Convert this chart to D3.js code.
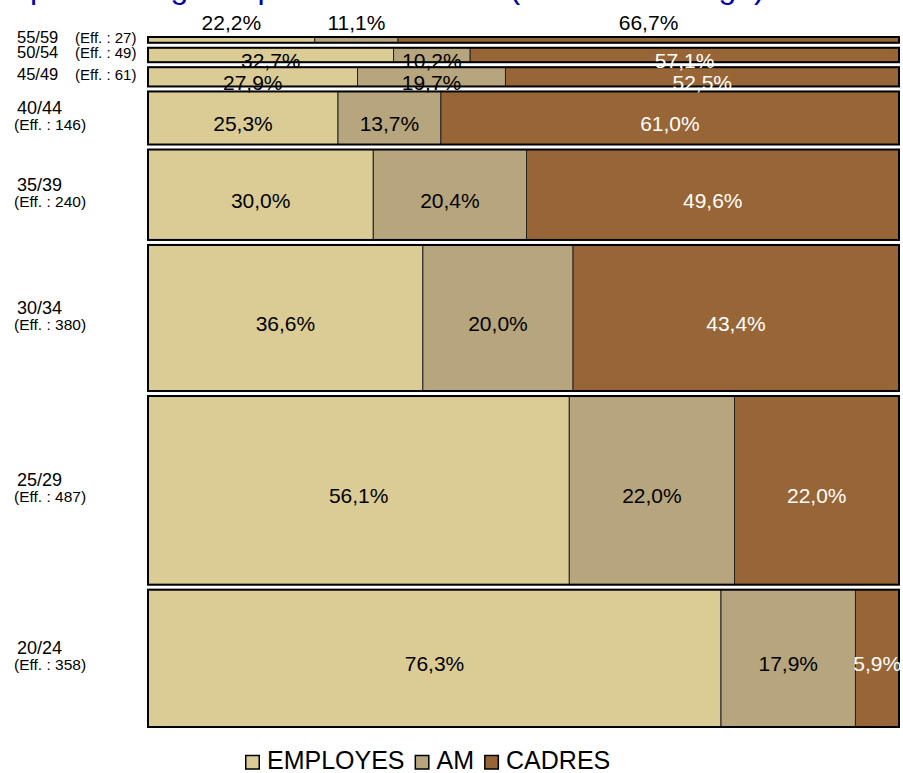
<!DOCTYPE html>
<html>
<head>
<meta charset="utf-8">
<script src="https://cdn.jsdelivr.net/npm/d3@7"></script>
<style>
  body { margin: 0; background: #fff; }
  svg { display: block; font-family: "Liberation Sans", Arial, Helvetica, sans-serif; }
</style>
</head>
<body>
<div id="chart"></div>
<script>
// age groups from top to bottom, with headcount (Eff.)
const ageGroups = ["55/59", "50/54", "45/49", "40/44", "35/39", "30/34", "25/29", "20/24"];
const effectifs = [27, 49, 61, 146, 240, 380, 487, 358];

const categories = ["EMPLOYES", "AM", "CADRES"];
const employes = [22.2, 32.7, 27.9, 25.3, 30.0, 36.6, 56.1, 76.3];
const am = [11.1, 10.2, 19.7, 13.7, 20.4, 20.0, 22.0, 17.9];
const cadres = [66.7, 57.1, 52.5, 61.0, 49.6, 43.4, 22.0, 5.9];

const colors = ["#dbcc96", "#b6a57d", "#986636"];
const labelColors = ["#000", "#000", "#fff"];
const title = "Répartition agents par statut et CSP (en % selon l'âge)";

const width = 903;
const height = 773;

let cum = 0;
const rows = ageGroups.map((g, i) => {
  const r = { age: g, eff: effectifs[i], start: cum, EMPLOYES: employes[i], AM: am[i], CADRES: cadres[i] };
  cum += effectifs[i];
  return r;
});

const x = d3.scaleLinear().domain([0, 100]).range([148, 899]);
const y = d3.scaleLinear().domain([0, d3.sum(effectifs)]).range([34.5, 729.5]);
const color = d3.scaleOrdinal().domain(categories).range(colors);
const txtColor = d3.scaleOrdinal().domain(categories).range(labelColors);
const fmt = v => d3.format(".1f")(v).replace(".", ",") + "%";

const svg = d3.select("#chart")
  .append("svg")
  .attr("width", width)
  .attr("height", height);

// title (mostly above the visible area)
svg.append("text")
  .attr("x", -11)
  .attr("y", -2)
  .attr("font-size", 32)
  .attr("fill", "#0000aa")
  .text(title);

const series = d3.stack().keys(categories)(rows);

const rowTop = d => y(d.start) + 2.5;
const bandH = d => y(d.start + d.eff) - y(d.start) - 5;
const mid = d => (y(d.start) + y(d.start + d.eff)) / 2;

// segments
series.forEach(s => {
  svg.append("g")
    .selectAll("rect")
    .data(s)
    .enter().append("rect")
    .attr("x", d => x(d[0]))
    .attr("width", d => x(Math.min(d[1], 100)) - x(d[0]))
    .attr("y", d => rowTop(d.data))
    .attr("height", d => bandH(d.data))
    .attr("fill", color(s.key))
    .attr("stroke", "#222")
    .attr("stroke-width", 1);
});

// row outlines
svg.append("g")
  .selectAll("rect")
  .data(rows)
  .enter().append("rect")
  .attr("x", x(0))
  .attr("width", x(100) - x(0))
  .attr("y", rowTop)
  .attr("height", bandH)
  .attr("fill", "none")
  .attr("stroke", "#000")
  .attr("stroke-width", 2);

// percentage labels
series.forEach(s => {
  svg.append("g")
    .selectAll("text")
    .data(s)
    .enter().append("text")
    .attr("x", d => (x(d[0]) + x(Math.min(d[1], 100))) / 2)
    .attr("y", d => bandH(d.data) < 8 ? y(d.data.start) - 4.5 : mid(d.data) + 13)
    .attr("text-anchor", "middle")
    .attr("font-size", 21)
    .attr("fill", d => bandH(d.data) < 8 ? "#000" : txtColor(s.key))
    .text(d => fmt(d.data[s.key]));
});

// row labels: two lines for tall rows, one line for thin ones
const rowLab = svg.append("g")
  .selectAll("g")
  .data(rows)
  .enter().append("g");

rowLab.append("text")
  .attr("x", 17)
  .attr("y", d => bandH(d) > 30 ? mid(d) - 4 : mid(d) + 3.5)
  .attr("font-size", d => bandH(d) > 30 ? 18 : 16.5)
  .text(d => d.age);

rowLab.append("text")
  .attr("x", d => bandH(d) > 30 ? 14 : 75)
  .attr("y", d => bandH(d) > 30 ? mid(d) + 12 : mid(d) + 3.5)
  .attr("font-size", d => bandH(d) > 30 ? 15.5 : 15)
  .text(d => "(Eff. : " + d.eff + ")");

// legend
const legend = svg.append("g").attr("transform", "translate(245,0)");
let lx = 0;
categories.forEach(c => {
  legend.append("rect")
    .attr("x", lx + 0.75)
    .attr("y", 755.5)
    .attr("width", 13.5)
    .attr("height", 13.5)
    .attr("fill", color(c))
    .attr("stroke", "#000")
    .attr("stroke-width", 1.5);
  const t = legend.append("text")
    .attr("x", lx + 22)
    .attr("y", 769)
    .attr("font-size", 25)
    .text(c);
  lx += 22 + t.node().getComputedTextLength() + 10;
});
</script>
</body>
</html>
